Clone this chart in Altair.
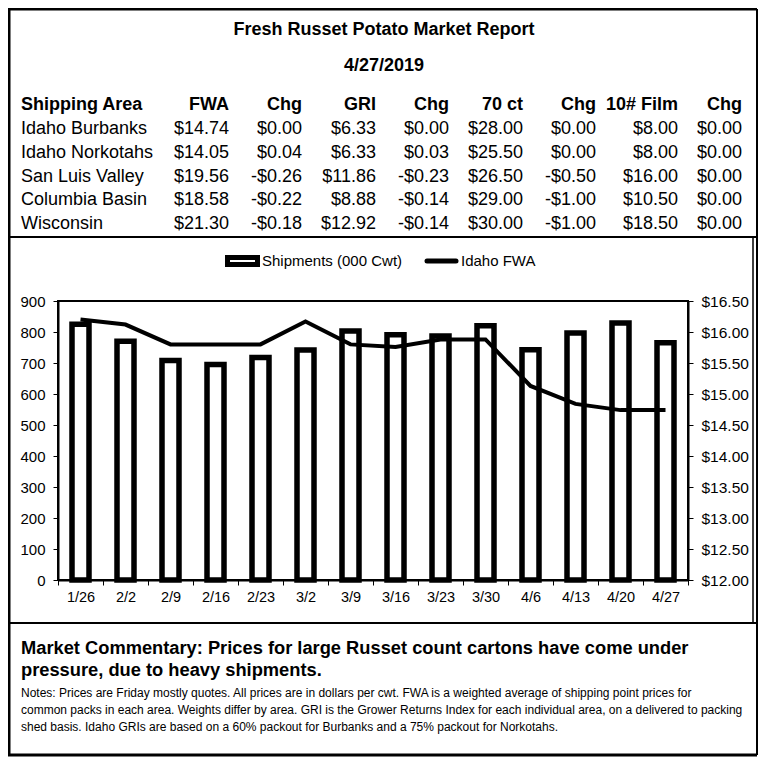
import altair as alt
import pandas as pd

# ---------------- data ----------------
title_text = "Fresh Russet Potato Market Report"
date_text = "4/27/2019"

headers = ["Shipping Area", "FWA", "Chg", "GRI", "Chg", "70 ct", "Chg", "10# Film", "Chg"]
areas = ["Idaho Burbanks", "Idaho Norkotahs", "San Luis Valley", "Columbia Basin", "Wisconsin"]
fwa = [14.74, 14.05, 19.56, 18.58, 21.30]
fwa_chg = [0.00, 0.04, -0.26, -0.22, -0.18]
gri = [6.33, 6.33, 11.86, 8.88, 12.92]
gri_chg = [0.00, 0.03, -0.23, -0.14, -0.14]
ct70 = [28.00, 25.50, 26.50, 29.00, 30.00]
ct70_chg = [0.00, 0.00, -0.50, -1.00, -1.00]
film = [8.00, 8.00, 16.00, 10.50, 18.50]
film_chg = [0.00, 0.00, 0.00, 0.00, 0.00]

weeks = ["1/26", "2/2", "2/9", "2/16", "2/23", "3/2", "3/9", "3/16",
         "3/23", "3/30", "4/6", "4/13", "4/20", "4/27"]
shipments = [825, 770, 708, 695, 718, 742, 803, 791, 787, 820, 743, 797, 829, 765]
idaho_fwa = [16.20, 16.12, 15.80, 15.80, 15.80, 16.17, 15.80, 15.76,
             15.88, 15.88, 15.13, 14.84, 14.74, 14.74]

legend_labels = ["Shipments (000 Cwt)", "Idaho FWA"]
left_ticks = [0, 100, 200, 300, 400, 500, 600, 700, 800, 900]
right_ticks = [12.0, 12.5, 13.0, 13.5, 14.0, 14.5, 15.0, 15.5, 16.0, 16.5]

commentary = [
    "Market Commentary: Prices for large Russet count cartons have come under",
    "pressure, due to heavy shipments.",
]
notes = [
    "Notes: Prices are Friday mostly quotes. All prices are in dollars per cwt. FWA is a weighted average of shipping point prices for",
    "common packs in each area. Weights differ by area. GRI is the Grower Returns Index for each individual area, on a delivered to packing",
    "shed basis. Idaho GRIs are based on a 60% packout for Burbanks and a 75% packout for Norkotahs.",
]

# ---------------- helpers ----------------
FONT = "Liberation Sans, Arial, sans-serif"
W, H = 630, 279
TFS = 18  # table font size


def money(v):
    return ("-$" if v < 0 else "$") + f"{abs(v):.2f}"


value_cols = [fwa, fwa_chg, gri, gri_chg, ct70, ct70_chg, film, film_chg]
table_df = pd.DataFrame({"area": areas})
keys = []
for i, col in enumerate(value_cols):
    k = f"c{i}"
    keys.append(k)
    table_df[k] = [money(v) for v in col]

chart_df = pd.DataFrame({"week": weeks, "shipments": shipments, "fwa": idaho_fwa})
one = pd.DataFrame({"k": [0]})

# column right edges (relative to plot origin)
col_x = [171, 244, 318, 391, 465, 538, 620, 684]
area_x = -37

X = alt.X(
    "week:N",
    sort=weeks,
    scale=alt.Scale(paddingInner=0, paddingOuter=0),
    axis=alt.Axis(
        title=None, labelAngle=0, tickBand="extent", labelFontSize=14.5,
        labelFont=FONT, labelColor="black", tickColor="black", tickSize=5,
        tickWidth=1, labelPadding=5, domainColor="black", domainWidth=2,
    ),
)

bars = alt.Chart(chart_df).mark_bar(
    size=17, fill="white", stroke="black", strokeWidth=5.5
).encode(
    x=X,
    y=alt.Y(
        "shipments:Q",
        scale=alt.Scale(domain=[0, 900], nice=False),
        axis=alt.Axis(
            title=None, values=left_ticks, grid=False, labelFontSize=15,
            labelFont=FONT, labelColor="black", tickColor="black", tickSize=5,
            labelPadding=8, domainColor="black", domainWidth=2,
        ),
    ),
)

line = alt.Chart(chart_df).mark_line(color="black", strokeWidth=4).encode(
    x=X,
    y=alt.Y(
        "fwa:Q",
        scale=alt.Scale(domain=[12, 16.5], nice=False, zero=False),
        axis=alt.Axis(
            orient="right", title=None, values=right_ticks, format="$.2f",
            grid=False, labelFontSize=15.5, labelFont=FONT, labelColor="black",
            tickColor="black", tickSize=5, labelPadding=8,
            domainColor="black", domainWidth=2,
        ),
    ),
)

layers = [bars, line]

# ---------------- table ----------------
row_y = alt.Y(
    "area:N",
    scale=alt.Scale(type="point", domain=areas, range=[-167, -72], padding=0),
    axis=None,
)

layers.append(
    alt.Chart(table_df).mark_text(
        align="left", baseline="alphabetic", fontSize=TFS, font=FONT, color="black"
    ).encode(x=alt.value(area_x), y=row_y, text="area:N")
)
for k, xr in zip(keys, col_x):
    layers.append(
        alt.Chart(table_df).mark_text(
            align="right", baseline="alphabetic", fontSize=TFS, font=FONT, color="black"
        ).encode(x=alt.value(xr), y=row_y, text=f"{k}:N")
    )

header_x = [area_x] + col_x
for j, h in enumerate(headers):
    layers.append(
        alt.Chart(pd.DataFrame({"h": [h]})).mark_text(
            align="left" if j == 0 else "right", baseline="alphabetic",
            fontSize=TFS, fontWeight="bold", font=FONT, color="black",
        ).encode(x=alt.value(header_x[j]), y=alt.value(-191), text="h:N")
    )

# titles
layers.append(
    alt.Chart(pd.DataFrame({"t": [title_text]})).mark_text(
        align="center", baseline="alphabetic", fontSize=18, fontWeight="bold",
        font=FONT, color="black",
    ).encode(x=alt.value(326), y=alt.value(-266), text="t:N")
)
layers.append(
    alt.Chart(pd.DataFrame({"t": [date_text]})).mark_text(
        align="center", baseline="alphabetic", fontSize=18, fontWeight="bold",
        font=FONT, color="black",
    ).encode(x=alt.value(326), y=alt.value(-230), text="t:N")
)

# ---------------- legend ----------------
layers.append(
    alt.Chart(one).mark_rect(fill="white", stroke="black", strokeWidth=5).encode(
        x=alt.value(169.5), x2=alt.value(199.5), y=alt.value(-43.5), y2=alt.value(-36.5)
    )
)
layers.append(
    alt.Chart(pd.DataFrame({"t": [legend_labels[0]]})).mark_text(
        align="left", baseline="alphabetic", fontSize=15, font=FONT, color="black"
    ).encode(x=alt.value(204), y=alt.value(-35), text="t:N")
)
layers.append(
    alt.Chart(one).mark_rule(color="black", strokeWidth=5, strokeCap="round").encode(
        x=alt.value(369), x2=alt.value(398), y=alt.value(-40)
    )
)
layers.append(
    alt.Chart(pd.DataFrame({"t": [legend_labels[1]]})).mark_text(
        align="left", baseline="alphabetic", fontSize=15, font=FONT, color="black"
    ).encode(x=alt.value(403), y=alt.value(-35), text="t:N")
)

# ---------------- commentary ----------------
for i, txt in enumerate(commentary):
    layers.append(
        alt.Chart(pd.DataFrame({"t": [txt]})).mark_text(
            align="left", baseline="alphabetic", fontSize=18.3, fontWeight="bold",
            font=FONT, color="black",
        ).encode(x=alt.value(-37), y=alt.value(353 + 22 * i), text="t:N")
    )
for i, txt in enumerate(notes):
    layers.append(
        alt.Chart(pd.DataFrame({"t": [txt]})).mark_text(
            align="left", baseline="alphabetic", fontSize=12, font=FONT, color="black"
        ).encode(x=alt.value(-37), y=alt.value(396 + 17 * i), text="t:N")
    )

# ---------------- frame lines ----------------
L, R, T, B = -50, 699, -292, 454


def hrule(y, x1=L, x2=R, w=2):
    return alt.Chart(one).mark_rule(color="black", strokeWidth=w).encode(
        x=alt.value(x1), x2=alt.value(x2), y=alt.value(y)
    )


def vrule(x, y1=T, y2=B, w=2):
    return alt.Chart(one).mark_rule(color="black", strokeWidth=w).encode(
        x=alt.value(x), y=alt.value(y1), y2=alt.value(y2)
    )


layers += [
    hrule(T, w=3), hrule(B, w=3), vrule(L + 1, w=3), vrule(R, w=2),
    hrule(-64, w=2), hrule(322, w=2), vrule(695, y1=-64, y2=322, w=1.5),
]

chart = alt.layer(*layers).resolve_scale(y="independent").properties(
    width=W, height=H,
    autosize=alt.AutoSizeParams(type="none"),
    padding={"left": 50, "top": 293, "right": 72, "bottom": 177},
    background="white",
).configure_view(stroke="black", strokeWidth=2)

chart.save("out.html", embed_options={"renderer": "svg", "actions": False})
